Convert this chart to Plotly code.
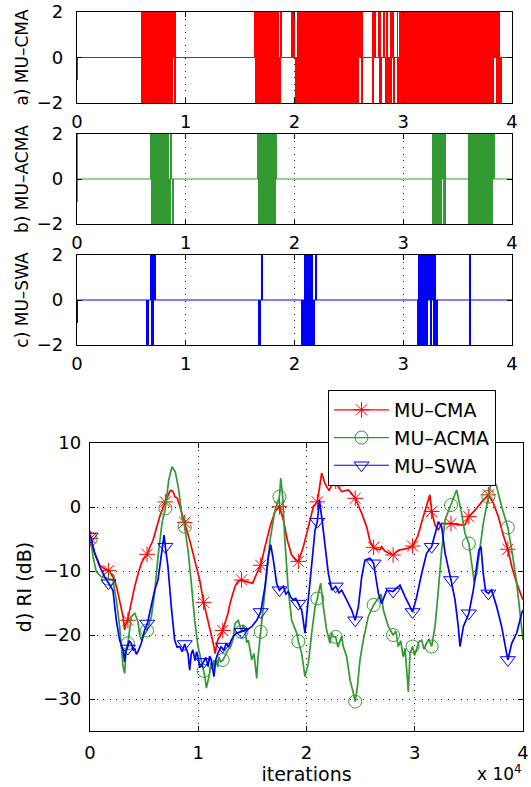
import plotly.graph_objects as go

# ---------------- data ----------------
tick_vals_it = [0, 10000, 20000, 30000, 40000]
tick_text_it = ["0", "1", "2", "3", "4"]
baseline_x = [0, 40000]
baseline_y = [0, 0]

# panel a) MU-CMA intervals (iterations, level low/high)
a_start = [0, 5900, 5900, 8990, 16310, 16370, 18700, 19710, 19890, 20080, 20200, 26070, 27090, 27790,
           28310, 29070, 29380, 38560, 27180, 27360, 27700, 27850, 28160, 28460, 28830, 29070, 29440,
           29690, 29800]
a_end = [40, 9120, 8870, 9120, 18610, 18730, 18850, 19830, 20020, 25950, 26320, 26320, 27300, 28030,
         28950, 29200, 38380, 39080, 27260, 27420, 27760, 27910, 28220, 28520, 28890, 29130, 29500,
         29750, 38870]
a_low = [-1, 0, -2, -2, 0, -2, 0, 0, 0, -2, 0, -2, -2, -2,
         -2, -2, -2, -2, 0, 0, 0, 0, 0, 0, 0, 0, 0,
         0, 0]
a_high = [0, 2, 0, 0, 2, 0, 2, 2, 2, 0, 2, 0, 0, 0,
          0, 0, 0, 0, 2, 2, 2, 2, 2, 2, 2, 2, 2,
          2, 2]

# panel b) MU-ACMA
b_start = [0, 6700, 8600, 6790, 8750, 16560, 16680, 32620, 32680, 33700, 35990, 35990]
b_end = [40, 8480, 8660, 8600, 8840, 18390, 18330, 33970, 33600, 33900, 38470, 38290]
b_low = [-1, 0, 0, -2, -2, 0, -2, 0, -2, -2, 0, -2]
b_high = [2, 2, 2, 0, 0, 2, 0, 2, 0, 0, 2, 0]

# panel c) MU-SWA
c_start = [0, 6760, 6900, 7030, 6430, 6790, 17000, 16710, 20870, 21970, 20630, 31370, 31280, 32450,
           32740, 36110, 36050]
c_end = [40, 6840, 6970, 7220, 6610, 7040, 17140, 16890, 21670, 22100, 21880, 32990, 32320, 32650,
         33200, 36230, 36230]
c_low = [-1, 0, 0, 0, -2, -2, 0, -2, 0, 0, -2, 0, -2, -2,
         -2, 0, -2]
c_high = [0, 2, 2, 2, 0, 0, 2, 0, 2, 2, 0, 2, 0, 0,
          0, 2, 0]

# panel d) RI (dB) curves
cma_x = [0, 60, 430, 900, 1300, 1700, 2000, 2280, 2500, 2740, 2900, 3050, 3200, 3300, 3450, 3670, 3900,
         4130, 4450, 4740, 5000, 5270, 5500, 5820, 6100, 6440, 6960, 7200, 7360, 7500, 7670, 7850, 8070,
         8440, 8750, 9210, 9670, 10130, 10500, 10900, 11200, 11450, 11550, 11700, 11800, 12000, 12260,
         12750, 12930, 13200, 13400, 13670, 14000, 14470, 14800, 15030, 15400, 15770, 16170, 16630,
         17090, 17500, 17860, 18230, 18630, 19000, 19250, 19710, 20170, 20630, 21000, 21200, 21400,
         21700, 22080, 22330, 22700, 23000, 23250, 23860, 24100, 24500, 25100, 25560, 25870, 26200,
         26330, 26790, 26940, 27200, 27560, 28000, 28300, 28640, 29260, 29800, 30270, 30790, 31250,
         31400, 31560, 31870, 32180, 32490, 32900, 33350, 34020, 34640, 35000, 35570, 36180, 36800,
         37260, 37720, 38180, 38600, 38960, 39420, 39880, 40000]
cma_y = [-4.6, -4.9, -7.2, -9.1, -9.6, -9.95, -10.6, -11.4, -12.8, -14.5, -15.8, -17.1, -19.2, -18.4,
         -17.9, -16.1, -14.0, -12.4, -10.4, -8.8, -8.0, -7.4, -6.4, -5.2, -3.5, -1.5, 0.8, 1.9, 2.4, 2.6,
         2.4, 1.6, 1.35, -0.7, -2.4, -5.2, -8.3, -11.4, -14.9, -17.7, -20.3, -21.8, -22.9, -21.5, -20.8,
         -20.2, -19.3, -16.6, -15.1, -13.5, -12.4, -11.6, -11.4, -11.7, -11.8, -11.9, -10.4, -9.1, -6.2,
         -3.1, -0.7, 0.05, -2.0, -5.2, -7.5, -8.3, -8.5, -6.2, -3.1, 0.05, 0.8, 3.0, 5.3, 3.7, 2.55, 3.4,
         4.0, 3.0, 2.4, 2.65, 2.3, 1.35, -1.0, -3.1, -5.4, -6.3, -6.5, -6.7, -6.2, -6.8, -7.2, -7.5, -7.0,
         -6.7, -6.5, -6.1, -4.6, -1.5, 1.35, 1.9, -0.7, -2.8, -3.6, -2.55, -2.6, -2.55, -2.8, -2.8, -1.5,
         -0.5, 0.8, 1.9, 0.6, -1.5, -4.4, -6.6, -9.3, -11.9, -14.0, -14.5]

acma_x = [0, 60, 280, 580, 1040, 1400, 1700, 2120, 2430, 2740, 3050, 3200, 3350, 3500, 3820, 4130, 4300,
          4430, 4600, 4740, 4900, 5270, 5670, 5970, 6280, 6650, 6960, 7270, 7570, 7880, 8200, 8500, 8750,
          9050, 9360, 9670, 9980, 10200, 10440, 10600, 10750, 10900, 11050, 11180, 11300, 11420, 11520,
          11700, 11800, 11890, 12050, 12300, 12500, 12750, 12950, 13200, 13400, 13700, 14000, 14150,
          14320, 14480, 14630, 14800, 14940, 15150, 15280, 15400, 15520, 15640, 15770, 16010, 16320,
          16630, 17090, 17500, 17620, 17800, 18000, 18320, 18630, 19090, 19250, 19560, 19860, 20170,
          20480, 20790, 21000, 21310, 21560, 21860, 22170, 22330, 22480, 22700, 22900, 23090, 23250,
          23400, 23560, 23710, 23870, 24020, 24260, 24500, 24700, 24940, 25250, 25710, 26200, 26500,
          26900, 27100, 27560, 28000, 28250, 28480, 28700, 28940, 29100, 29260, 29410, 29560, 29800,
          29980, 30180, 30400, 30640, 30850, 31100, 31300, 31560, 31870, 32180, 32490, 32800, 33350,
          33870, 34330, 34640, 35000, 35260, 35500, 35720, 36030, 36330, 36800, 37170, 37570, 38030,
          38600, 38960, 39420, 39720, 40000]
acma_y = [-4.6, -5.0, -7.8, -10.1, -10.9, -11.0, -11.2, -11.4, -14.5, -18.7, -24.9, -26.0, -22.0, -21.3,
          -17.1, -16.6, -17.4, -17.9, -20.0, -20.8, -20.2, -19.3, -17.1, -13.5, -7.8, -2.55, -0.2, 4.2,
          6.3, 5.5, 2.65, -1.5, -3.1, -6.7, -11.9, -17.7, -21.8, -23.5, -25.6, -26.4, -28.3, -27.2,
          -26.0, -24.3, -25.4, -23.9, -24.9, -24.0, -25.0, -23.4, -24.2, -23.9, -23.2, -22.3, -22.0,
          -20.8, -18.2, -17.7, -19.5, -18.4, -19.2, -21.2, -20.8, -22.4, -23.9, -22.9, -24.6, -26.8,
          -23.5, -21.8, -19.5, -15.6, -10.4, -5.2, -0.5, 1.6, 4.5, 1.6, -5.2, -13.0, -17.7, -19.7, -21.0,
          -22.9, -26.5, -24.4, -19.7, -15.6, -14.3, -11.9, -15.6, -19.2, -21.3, -19.6, -20.3, -20.3,
          -21.9, -20.8, -20.2, -21.8, -22.6, -23.4, -25.2, -27.0, -28.6, -30.4, -28.1, -23.9, -20.8,
          -17.1, -15.3, -14.6, -13.6, -16.1, -18.7, -20.0, -19.4, -21.8, -20.9, -23.4, -22.1, -25.5,
          -28.9, -22.9, -21.8, -23.2, -22.3, -21.0, -20.8, -22.2, -21.3, -20.6, -21.8, -18.7, -13.0,
          -6.7, -2.0, 0.3, 2.65, -1.0, -4.1, -5.7, -9.3, -11.7, -10.4, -6.7, -2.55, 1.6, 4.8, 3.2, 0.05,
          -3.2, -6.7, -11.9, -16.6, -20.8]

swa_x = [0, 60, 430, 900, 1350, 1700, 2120, 2430, 2740, 3050, 3200, 3300, 3450, 3620, 3820, 3980, 4130,
         4280, 4430, 4740, 5050, 5300, 5670, 5970, 6280, 6590, 6840, 6960, 7200, 7510, 7820, 8050, 8290,
         8520, 8750, 9050, 9210, 9350, 9500, 9700, 9850, 9980, 10140, 10280, 10500, 10700, 10900,
         11050, 11200, 11450, 11600, 11800, 12100, 12350, 12590, 12800, 13050, 13300, 13550, 14000,
         14470, 14940, 15400, 15770, 16170, 16470, 16690, 16940, 17240, 17500, 17860, 18100, 18320,
         18550, 18780, 19000, 19250, 19560, 19860, 20170, 20480, 20790, 21000, 21190, 21400, 21700,
         22020, 22330, 22700, 23000, 23250, 23710, 24170, 24500, 24790, 25100, 25400, 25870, 26200,
         26640, 26940, 27410, 28000, 28640, 29100, 29800, 30180, 30640, 31100, 31560, 31870, 32180,
         32490, 32800, 33350, 33720, 34020, 34180, 34490, 35000, 35410, 35720, 35930, 36120, 36330,
         36550, 36800, 37100, 37570, 38030, 38340, 38600, 38960, 39420, 39880, 40000]
swa_y = [-4.4, -4.6, -7.2, -9.3, -10.9, -11.9, -13.0, -17.7, -20.8, -22.3, -24.2, -22.5, -22.1, -20.9,
         -21.3, -22.4, -22.1, -23.0, -22.6, -21.3, -19.2, -18.2, -15.1, -13.0, -11.4, -7.2, -4.4, -6.2,
         -9.3, -15.6, -20.8, -21.9, -21.8, -22.6, -21.4, -22.9, -25.5, -23.0, -22.3, -24.0, -22.6,
         -23.4, -25.0, -24.9, -24.2, -23.5, -24.9, -23.3, -23.9, -26.5, -24.0, -22.9, -21.8, -22.4,
         -21.3, -21.9, -20.8, -20.1, -19.7, -19.5, -19.2, -18.7, -17.7, -16.4, -12.4, -7.8, -5.9, -8.3,
         -11.9, -13.0, -12.4, -13.6, -13.2, -14.1, -14.5, -14.3, -15.1, -16.1, -19.7, -14.5, -9.3,
         -3.6, -2.3, 1.1, -1.5, -5.7, -10.4, -13.0, -12.4, -13.4, -13.0, -14.5, -16.1, -17.7, -15.6,
         -10.9, -8.3, -8.0, -8.8, -13.5, -15.1, -13.0, -13.2, -12.2, -14.0, -16.4, -14.0, -10.4, -7.2,
         -6.2, -4.1, -2.3, -3.1, -7.2, -11.4, -14.5, -18.7, -21.8, -18.7, -16.6, -13.0, -9.3, -6.7,
         -6.2, -10.4, -13.2, -13.5, -13.0, -15.6, -18.7, -21.3, -23.9, -21.3, -19.7, -16.6, -16.1]

marker_x = [60, 1700, 3500, 5270, 6960, 8750, 10500, 12260, 14000, 15770, 17500, 19250, 21000, 22700,
            24500, 26200, 28000, 29800, 31560, 33350, 35000, 36800, 38600]
cma_mk = [-4.9, -9.95, -17.7, -7.4, 0.8, -2.4, -14.9, -19.3, -11.4, -9.1, 0.05, -8.5, 0.8, 4.0, 1.35,
          -6.3, -7.5, -6.1, -0.7, -2.6, -1.5, 1.9, -6.6]
acma_mk = [-5.0, -11.2, -21.3, -19.3, -0.2, -3.1, -25.6, -23.9, -19.5, -19.5, 1.6, -21.0, -14.3, -20.3,
           -30.4, -15.3, -20.0, -21.8, -21.8, 0.3, -5.7, 1.6, -3.2]
swa_mk = [-4.6, -11.9, -22.1, -18.2, -6.2, -21.4, -24.2, -21.8, -19.5, -16.4, -13.0, -15.1, -2.3, -12.4,
          -17.7, -8.8, -13.2, -16.4, -6.2, -11.4, -16.6, -13.5, -23.9]

names = ["MU–CMA", "MU–ACMA", "MU–SWA"]
panel_titles = ["a) MU–CMA", "b) MU–ACMA", "c) MU–SWA"]
d_title = "d) RI (dB)"
d_yticks = [-30, -20, -10, 0, 10]

# ---------------- styles ----------------
RED, GREEN, BLUE = "#ff0000", "#339933", "#0000ff"
FONT = "DejaVu Sans"
W, H = 531, 787

fig = go.Figure()


def add_panel(idx, starts, ends, lows, highs, color):
    xs = [(s + e) / 2 for s, e in zip(starts, ends)]
    ws = [max(e - s, 90) for s, e in zip(starts, ends)]
    ys = [h - l for l, h in zip(lows, highs)]
    ax = "" if idx == 1 else str(idx)
    fig.add_trace(go.Bar(x=xs, y=ys, base=lows, width=ws, marker=dict(color=color, line=dict(width=0)),
                         xaxis="x" + ax, yaxis="y" + ax, showlegend=False, hoverinfo="skip"))
    fig.add_trace(go.Scatter(x=baseline_x, y=baseline_y, mode="lines", line=dict(color=color, width=1),
                             xaxis="x" + ax, yaxis="y" + ax, showlegend=False, hoverinfo="skip"))


add_panel(1, a_start, a_end, a_low, a_high, RED)
add_panel(2, b_start, b_end, b_low, b_high, GREEN)
add_panel(3, c_start, c_end, c_low, c_high, BLUE)

series = [(cma_x, cma_y, cma_mk, RED, "asterisk-open"),
          (acma_x, acma_y, acma_mk, GREEN, "circle-open"),
          (swa_x, swa_y, swa_mk, BLUE, "triangle-down-open")]
for (sx, sy, mk, col, sym), nm in zip(series, names):
    fig.add_trace(go.Scatter(x=sx, y=sy, mode="lines", line=dict(color=col, width=1.7),
                             xaxis="x4", yaxis="y4", showlegend=False))
    fig.add_trace(go.Scatter(x=marker_x, y=mk, mode="markers",
                             marker=dict(symbol=sym, size=13, color=col, line=dict(color=col, width=1)),
                             xaxis="x4", yaxis="y4", showlegend=False))
for (sx, sy, mk, col, sym), nm in zip(series, names):
    fig.add_trace(go.Scatter(x=[None], y=[None], mode="lines+markers", name=nm,
                             line=dict(color=col, width=1.2),
                             marker=dict(symbol=sym, size=13, color=col, line=dict(color=col, width=1)),
                             xaxis="x4", yaxis="y4"))

base_axis = dict(showline=True, linecolor="black", linewidth=1.3, mirror="ticks", ticks="inside",
                 ticklen=5, tickcolor="black", zeroline=False, showgrid=True, gridcolor="#222",
                 griddash="1px,5.5px", gridwidth=1, automargin=False,
                 tickfont=dict(family=FONT, size=18, color="black"))

top_x = [77 / W, 512 / W]
bot_x = [90 / W, 523 / W]
dom = {1: (12, 103), 2: (134, 224), 3: (255, 345), 4: (443, 731)}


def ydom(i):
    t, b = dom[i]
    return [1 - b / H, 1 - t / H]


lay = dict(template="none", width=W, height=H, margin=dict(l=0, r=0, t=0, b=0, pad=0),
           paper_bgcolor="white", plot_bgcolor="white", barmode="overlay", bargap=0,
           font=dict(family=FONT, color="black"), showlegend=True)
for i in (1, 2, 3):
    ax = "" if i == 1 else str(i)
    lay["xaxis" + ax] = dict(base_axis, domain=top_x, range=[0, 40000], tickvals=tick_vals_it,
                             ticktext=tick_text_it, anchor="y" + ax, ticklabelstandoff=2)
    lay["yaxis" + ax] = dict(base_axis, domain=ydom(i), range=[-2, 2], tickvals=[-2, 0, 2],
                             showgrid=False, anchor="x" + ax, ticklabelstandoff=9,
                             title=dict(text=panel_titles[i - 1], font=dict(family=FONT, size=17),
                                        standoff=3))
lay["xaxis4"] = dict(base_axis, domain=bot_x, range=[0, 40000], tickvals=tick_vals_it,
                     ticktext=tick_text_it, anchor="y4", ticklabelstandoff=5,
                     title=dict(text="iterations", font=dict(family=FONT, size=19), standoff=5))
lay["yaxis4"] = dict(base_axis, domain=ydom(4), range=[-35, 10], tickvals=d_yticks, anchor="x4",
                     ticklabelstandoff=4,
                     title=dict(text=d_title, font=dict(family=FONT, size=19), standoff=6))
lay["legend"] = dict(x=328 / W, y=1 - 390 / H, xanchor="left", yanchor="top", bgcolor="white",
                     bordercolor="black", borderwidth=1, font=dict(family=FONT, size=19),
                     itemwidth=55, tracegroupgap=0)
lay["annotations"] = [dict(text="x 10<sup>4</sup>", xref="paper", yref="paper", x=524 / W, y=1 - 786 / H,
                           xanchor="right", yanchor="bottom", showarrow=False,
                           font=dict(family=FONT, size=17, color="black"))]
fig.update_layout(**lay)

fig.write_html("out.html", config={"displayModeBar": False},
               post_script="document.body.style.margin='0';")
